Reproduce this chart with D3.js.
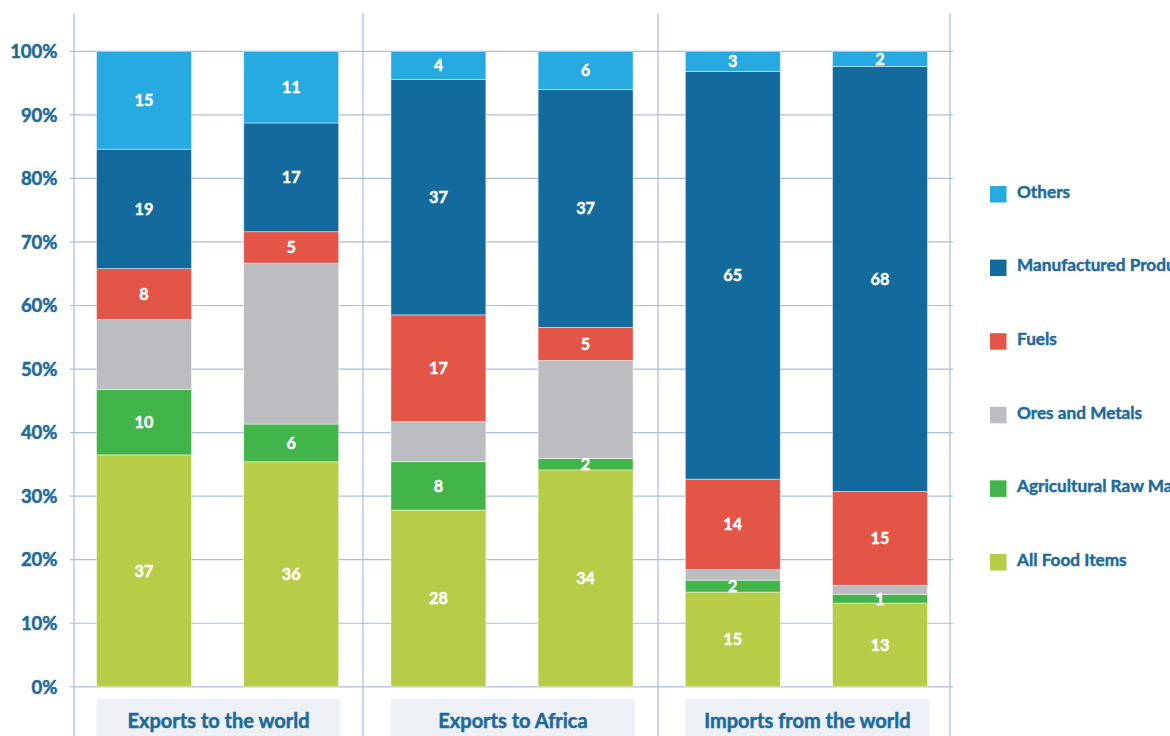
<!DOCTYPE html>
<html>
<head>
<meta charset="utf-8">
<script src="https://cdn.jsdelivr.net/npm/d3@7"></script>
<style>
  html, body { margin: 0; padding: 0; background: #fff; overflow: hidden; }
  svg { display: block; }
  text { font-family: Lato, "Open Sans", sans-serif; font-weight: 700; paint-order: stroke; }
</style>
</head>
<body>
<svg id="chart" width="1170" height="736"></svg>
<script>
// ---- data ----
const groupNames = ["Exports to the world", "Exports to Africa", "Imports from the world"];
const bars = ["b1", "b2", "b3", "b4", "b5", "b6"];
const barGroup = [0, 0, 1, 1, 2, 2];
const seriesNames = ["All Food Items", "Agricultural Raw Materials", "Ores and Metals", "Fuels", "Manufactured Products", "Others"];
const food   = [36.5, 35.8, 27.8, 34.1, 15.1, 13.4];
const agri   = [10.3,  6.0,  7.6,  1.8,  1.9,  1.4];
const ores   = [11.0, 25.6,  6.3, 15.4,  1.7,  1.45];
const fuels  = [ 8.0,  5.0, 16.8,  5.2, 14.4, 15.0];
const manuf  = [18.8, 17.3, 37.0, 37.4, 65.0, 68.0];
const others = [15.4, 11.4,  4.45, 6.0,  3.2,  2.45];
const yTicks = [0, 0.1, 0.2, 0.3, 0.4, 0.5, 0.6, 0.7, 0.8, 0.9, 1.0];
const colors = ["#b7cc47", "#42b54a", "#bcbdc0", "#e35546", "#136b9d", "#27a9e1"];
const labelSeries = [true, true, false, true, true, true];

const seriesValues = [food, agri, ores, fuels, manuf, others];
const table = bars.map((b, i) => {
  const row = { bar: b, group: barGroup[i] };
  seriesNames.forEach((s, j) => row[s] = seriesValues[j][i]);
  return row;
});

const svg = d3.select("#chart");
const textColor = "#1c6a9c";
const gridColor = "#a9bedb";

const x = d3.scaleBand().domain(bars).range([70.4, 953.6]).paddingInner(0.355).paddingOuter(0.1775);
const y = d3.scaleLinear().domain([0, 1]).range([686.8, 51.3]);

// horizontal gridlines
svg.append("g").selectAll("line").data(yTicks).join("line")
  .attr("x1", 70).attr("x2", 953)
  .attr("y1", d => y(d)).attr("y2", d => y(d))
  .attr("stroke", gridColor).attr("stroke-width", 1.2);

// group separators
const sep = d3.scaleLinear().domain([0, 3]).range([74, 950]);
svg.append("g").selectAll("line").data([0, 1, 2, 3]).join("line")
  .attr("x1", d => sep(d) + (d === 1 ? -3 : 0)).attr("x2", d => sep(d) + (d === 1 ? -3 : 0))
  .attr("y1", 13).attr("y2", 736)
  .attr("stroke", gridColor).attr("stroke-width", 1.2);

// y axis labels
const yAxis = d3.axisLeft(y).tickValues(yTicks).tickFormat(d3.format(".0%")).tickSize(0).tickPadding(0);
const ya = svg.append("g").attr("transform", "translate(57.5,0)").call(yAxis);
ya.select(".domain").remove();
ya.selectAll("text").attr("fill", textColor).attr("font-size", 18.5)
  .attr("font-family", "Lato, 'Open Sans', sans-serif").attr("font-weight", 700)
  .attr("stroke", textColor).attr("stroke-width", 0.5)
  .attr("dy", "0.34em");

// stacked bars
const stack = d3.stack().keys(seriesNames).offset(d3.stackOffsetExpand);
const layers = stack(table);

const lg = svg.append("g").selectAll("g").data(layers).join("g")
  .attr("fill", (d, i) => colors[i]);
lg.selectAll("rect").data(d => d).join("rect")
  .attr("x", d => x(d.data.bar))
  .attr("width", x.bandwidth())
  .attr("y", d => y(d[1]))
  .attr("height", d => y(d[0]) - y(d[1]))
  .attr("stroke", "#ffffff").attr("stroke-opacity", 0.55).attr("stroke-width", 0.8);

// value labels
layers.forEach((layer, i) => {
  if (!labelSeries[i]) return;
  svg.append("g").selectAll("text").data(layer).join("text")
    .attr("x", d => x(d.data.bar) + x.bandwidth() / 2)
    .attr("y", d => (y(d[0]) + y(d[1])) / 2)
    .attr("dy", "0.36em")
    .attr("text-anchor", "middle")
    .attr("fill", "#ffffff")
    .attr("stroke", "#ffffff").attr("stroke-width", 0.45)
    .attr("font-size", 16.3)
    .text(d => Math.round(d.data[layer.key]));
});

// category boxes
const groupIdx = [0, 1, 2];
const gb = svg.append("g").selectAll("g").data(groupIdx).join("g");
gb.append("rect")
  .attr("x", g => x(bars[g * 2]))
  .attr("width", g => x(bars[g * 2 + 1]) + x.bandwidth() - x(bars[g * 2]) + 2)
  .attr("y", 699).attr("height", 40)
  .attr("fill", "#edf1f6");
gb.append("text")
  .attr("x", g => (x(bars[g * 2]) + x(bars[g * 2 + 1]) + x.bandwidth()) / 2 + 1)
  .attr("y", 728)
  .attr("text-anchor", "middle")
  .attr("fill", textColor)
  .attr("stroke", textColor).attr("stroke-width", 0.5)
  .attr("font-size", 20)
  .text(g => groupNames[g]);

// legend (top to bottom: Others ... Food)
const legendOrder = d3.range(seriesNames.length).reverse();
const ly = d3.scaleLinear().domain([0, 5]).range([186, 554]);
const leg = svg.append("g").selectAll("g").data(legendOrder).join("g")
  .attr("transform", (d, k) => `translate(990,${ly(k)})`);
leg.append("rect").attr("width", 16.5).attr("height", 16.5).attr("fill", d => colors[d]);
leg.append("text").attr("x", 27).attr("y", 10).attr("dy", "0.1em")
  .attr("fill", textColor).attr("font-size", 17.2)
  .attr("stroke", textColor).attr("stroke-width", 0.45)
  .text(d => seriesNames[d]);
</script>
</body>
</html>
